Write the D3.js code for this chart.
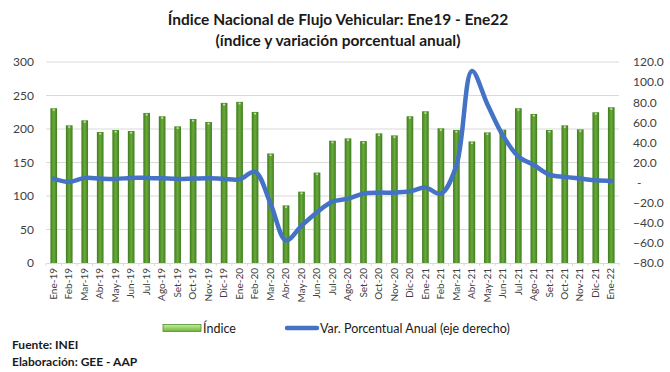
<!DOCTYPE html>
<html lang="es">
<head>
  <meta charset="UTF-8">
  <title>Flujo Vehicular</title>
  <style>
    body { margin: 0; background: #fff; }
    text { font-family: Lato, "Open Sans", sans-serif; }
  </style>
</head>
<body>
  <script src="https://d3js.org/d3.v7.min.js"></script>
  <script>
    const meses = ['Ene-19','Feb-19','Mar-19','Abr-19','May-19','Jun-19','Jul-19','Ago-19','Set-19','Oct-19','Nov-19','Dic-19',
      'Ene-20','Feb-20','Mar-20','Abr-20','May-20','Jun-20','Jul-20','Ago-20','Set-20','Oct-20','Nov-20','Dic-20',
      'Ene-21','Feb-21','Mar-21','Abr-21','May-21','Jun-21','Jul-21','Ago-21','Set-21','Oct-21','Nov-21','Dic-21','Ene-22']

    const indice = [231, 205.5, 213, 195.5, 198.5, 197, 224, 219, 204, 215, 210.5, 239,
      240.5, 225.5, 163.5, 86, 106.5, 135, 182.5, 186, 182, 193.5, 190.5, 219,
      226.5, 201, 198.5, 181.5, 195, 199, 231, 222.5, 198.5, 205.5, 199.5, 225, 232.5]

    const variacion = [4, 0.7, 4.7, 4, 3.7, 4.7, 4.7, 4.3, 3.7, 4, 4.3, 3.7,
      3.3, 10.7, -21, -57.5, -43, -29.5, -19, -16, -11, -10, -10, -8.7,
      -5, -11, 17, 111, 78, 47, 26, 17.5, 8, 5.7, 4, 2.3, 1.7]

    const ticksIzq = [0, 50, 100, 150, 200, 250, 300]
    const ticksDer = [-80, -60, -40, -20, 0, 20, 40, 60, 80, 100, 120]

    const width = 670, height = 372
    const m = { left: 46, right: 51, top: 62, bottom: 109 }
    const iw = width - m.left - m.right
    const ih = height - m.top - m.bottom

    const svg = d3.select('body').append('svg')
      .attr('width', width)
      .attr('height', height)

    const defs = svg.append('defs')
    const grad = defs.append('linearGradient').attr('id', 'barra')
      .attr('x1', 0).attr('x2', 1).attr('y1', 0).attr('y2', 0)
    grad.append('stop').attr('offset', '0%').attr('stop-color', '#3f7d1f')
    grad.append('stop').attr('offset', '50%').attr('stop-color', '#6aaa3a')
    grad.append('stop').attr('offset', '100%').attr('stop-color', '#3f7d1f')

    const gradLey = defs.append('linearGradient').attr('id', 'ley')
      .attr('x1', 0).attr('x2', 0).attr('y1', 0).attr('y2', 1)
    gradLey.append('stop').attr('offset', '0%').attr('stop-color', '#c6ef9a')
    gradLey.append('stop').attr('offset', '100%').attr('stop-color', '#6fb33c')

    const g = svg.append('g').attr('transform', `translate(${m.left},${m.top})`)

    const x = d3.scaleBand().domain(meses).range([0, iw]).paddingInner(0.57).paddingOuter(0.285)
    const y = d3.scaleLinear().domain([0, 300]).range([ih, 0])
    const y2 = d3.scaleLinear().domain([-80, 120]).range([ih, 0])

    // grilla
    g.append('g')
      .selectAll('line')
      .data(ticksIzq.slice(1))
      .join('line')
      .attr('x1', 0).attr('x2', iw)
      .attr('y1', d => y(d)).attr('y2', d => y(d))
      .attr('stroke', '#d9d9d9')

    // barras
    g.append('g')
      .selectAll('rect')
      .data(indice)
      .join('rect')
      .attr('x', (d, i) => x(meses[i]))
      .attr('y', d => y(d))
      .attr('width', x.bandwidth())
      .attr('height', d => ih - y(d))
      .attr('fill', 'url(#barra)')

    g.append('g')
      .selectAll('rect')
      .data(indice)
      .join('rect')
      .attr('x', (d, i) => x(meses[i]) + x.bandwidth() / 2 - 1)
      .attr('y', d => y(d) + 1)
      .attr('width', 2).attr('height', 1.5)
      .attr('fill', '#cfe8b8')

    // eje x
    const ejeX = g.append('g')
      .attr('transform', `translate(0,${ih})`)
      .call(d3.axisBottom(x).tickSize(0).tickPadding(4))
    ejeX.select('.domain').attr('stroke', '#d9d9d9')
    ejeX.selectAll('text')
      .attr('transform', 'rotate(-90)')
      .attr('text-anchor', 'end')
      .attr('x', -5).attr('y', 0)
      .attr('dy', '0.32em')
      .attr('font-size', 10)
      .attr('fill', '#404040')

    ejeX.selectAll('.marca')
      .data(d3.range(meses.length + 1))
      .join('line')
      .attr('class', 'marca')
      .attr('x1', d => d * x.step())
      .attr('x2', d => d * x.step())
      .attr('y1', 0).attr('y2', 3)
      .attr('stroke', '#d9d9d9')

    // eje izq
    const ejeY = g.append('g')
      .call(d3.axisLeft(y).tickValues(ticksIzq).tickSize(0).tickPadding(12))
    ejeY.select('.domain').remove()
    ejeY.selectAll('text').attr('font-size', 12).attr('fill', '#404040')

    // eje der
    const ejeY2 = g.append('g')
      .attr('transform', `translate(${iw},0)`)
      .call(d3.axisRight(y2).tickValues(ticksDer).tickSize(0).tickPadding(14)
        .tickFormat(d => d === 0 ? '-' : d3.format('.1f')(d)))
    ejeY2.select('.domain').remove()
    ejeY2.selectAll('text').attr('font-size', 12).attr('fill', '#404040')
    ejeY2.selectAll('text').filter(d => d === 0).attr('dx', 4)

    // linea
    const linea = d3.line()
      .x((d, i) => x(meses[i]) + x.bandwidth() / 2)
      .y(d => y2(d))
      .curve(d3.curveCatmullRom.alpha(0.5))

    g.append('path')
      .datum(variacion)
      .attr('d', linea)
      .attr('fill', 'none')
      .attr('stroke', '#4472c4')
      .attr('stroke-width', 4.5)
      .attr('stroke-linejoin', 'round')
      .attr('stroke-linecap', 'round')

    // titulo
    svg.append('text')
      .attr('x', 338).attr('y', 25)
      .attr('text-anchor', 'middle')
      .attr('font-size', 15.5).attr('font-weight', 'bold')
      .attr('fill', '#1a1a1a')
      .text('Índice Nacional de Flujo Vehicular: Ene19 - Ene22')
    svg.append('text')
      .attr('x', 338).attr('y', 46)
      .attr('text-anchor', 'middle')
      .attr('font-size', 15.5).attr('font-weight', 'bold')
      .attr('fill', '#1a1a1a')
      .text('(índice y variación porcentual anual)')

    // leyenda
    const ley = svg.append('g').attr('transform', 'translate(163,328)')
    ley.append('rect')
      .attr('x', 0).attr('y', -3.5).attr('width', 38).attr('height', 7)
      .attr('fill', 'url(#ley)').attr('stroke', '#4f8f2a').attr('stroke-width', 0.8)
    ley.append('text').attr('x', 40).attr('y', 4.5)
      .attr('font-size', 12.5).attr('fill', '#1a1a1a').text('Índice')
    ley.append('line')
      .attr('x1', 124).attr('x2', 154).attr('y1', 0).attr('y2', 0)
      .attr('stroke', '#4472c4').attr('stroke-width', 4.5).attr('stroke-linecap', 'round')
    ley.append('text').attr('x', 157).attr('y', 4.5)
      .attr('font-size', 12.5).attr('fill', '#1a1a1a').text('Var. Porcentual Anual (eje derecho)')

    // fuente
    svg.append('text').attr('x', 12).attr('y', 349)
      .attr('font-size', 12).attr('font-weight', 'bold').attr('fill', '#1a1a1a')
      .text('Fuente: INEI')
    svg.append('text').attr('x', 12).attr('y', 366)
      .attr('font-size', 12).attr('font-weight', 'bold').attr('fill', '#1a1a1a')
      .text('Elaboración: GEE - AAP')
  </script>
</body>
</html>
